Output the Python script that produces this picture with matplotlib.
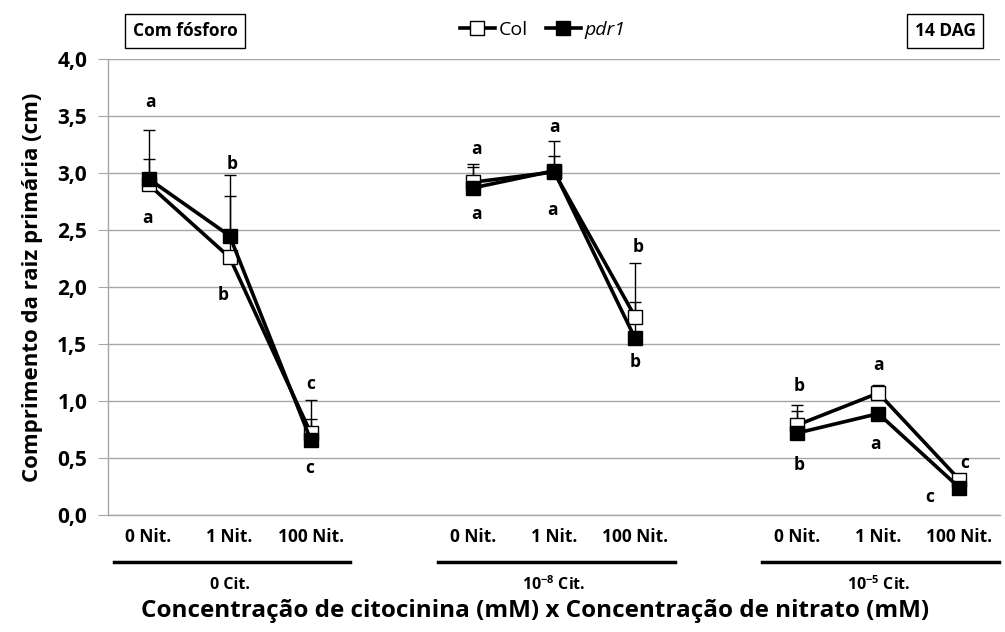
#!/usr/bin/env python3

import numpy as np
import matplotlib
matplotlib.use('Agg')
import matplotlib.pyplot as plt
import matplotlib.transforms as mtransforms
from matplotlib.lines import Line2D

# categories
nitrato = ['0 Nit.', '1 Nit.', '100 Nit.']
citocinina = ['0 Cit.', '10$^{\\mathbf{-8}}$ Cit.', '10$^{\\mathbf{-5}}$ Cit.']

# mean primary root length (cm), 3 groups x 3 nitrate levels
col = [2.90, 2.26, 0.72, 2.92, 3.01, 1.74, 0.79, 1.07, 0.31]
pdr1 = [2.95, 2.45, 0.66, 2.87, 3.02, 1.55, 0.72, 0.89, 0.24]
col_err = [0.22, 0.54, 0.29, 0.16, 0.27, 0.47, 0.18, 0.07, 0.03]
pdr1_err = [0.43, 0.53, 0.18, 0.18, 0.13, 0.32, 0.19, 0.03, 0.03]

# significance letters
letras_cima = ['a', 'b', 'c', 'a', 'a', 'b', 'b', 'a', 'c']
letras_baixo = ['a', 'b', 'c', 'a', 'a', 'b', 'b', 'a', 'c']

plt.rcParams['font.family'] = ['Open Sans', 'DejaVu Sans']
plt.rcParams['mathtext.fontset'] = 'custom'
plt.rcParams['mathtext.rm'] = 'Open Sans'
plt.rcParams['mathtext.bf'] = 'Open Sans:bold'

# x position of each point: groups separated by an empty slot
xs = np.array([g * 4 + i for g in range(3) for i in range(3)], dtype=float)

# where the letters sit (data units)
cima_x = xs + np.array([0.02, 0.03, 0.0, 0.04, 0.0, 0.04, 0.02, 0.0, 0.06])
cima_y = [3.62, 3.08, 1.15, 3.21, 3.40, 2.35, 1.13, 1.32, 0.46]
baixo_x = xs + np.array([-0.01, -0.08, -0.01, 0.05, -0.02, 0.0, 0.02, -0.03, -0.37])
baixo_y = [2.61, 1.93, 0.41, 2.64, 2.68, 1.34, 0.44, 0.62, 0.16]

fig = plt.figure(figsize=(10.05, 6.32), dpi=100)
ax = fig.add_axes([0.1075, 0.185, 0.8875, 0.7215])

grid_color = '#a6a6a6'

for g in range(3):
  sl = slice(g * 3, g * 3 + 3)
  ax.errorbar(xs[sl], col[sl], yerr=[np.zeros(3), col_err[sl]], fmt='none',
              ecolor='black', elinewidth=1, capsize=4, capthick=1, zorder=3)
  ax.errorbar(xs[sl], pdr1[sl], yerr=[np.zeros(3), pdr1_err[sl]], fmt='none',
              ecolor='black', elinewidth=1, capsize=4, capthick=1, zorder=3)
  ax.plot(xs[sl], col[sl], '-', color='black', lw=2.6, marker='s', ms=10,
          mfc='white', mec='black', mew=1, zorder=4)
  ax.plot(xs[sl], pdr1[sl], '-', color='black', lw=2.6, marker='s', ms=10,
          mfc='black', mec='black', mew=1, zorder=5)

for i in range(len(xs)):
  ax.text(cima_x[i], cima_y[i], letras_cima[i], ha='center', va='center',
          fontsize=12.5, fontweight='bold')
  ax.text(baixo_x[i], baixo_y[i], letras_baixo[i], ha='center', va='center',
          fontsize=12.5, fontweight='bold')

yt = np.arange(0, 4.01, 0.5)
ax.set_xlim(-0.5, 10.5)
ax.set_ylim(0, 4.0)
ax.set_yticks(yt)
ax.set_yticklabels([('%.1f' % v).replace('.', ',') for v in yt], fontsize=15,
                   fontweight='bold')
ax.yaxis.grid(True, color=grid_color, lw=1)
ax.set_axisbelow(True)
ax.tick_params(axis='y', length=7, color=grid_color, pad=8)
ax.set_xticks([])
for s in ['top', 'right']:
  ax.spines[s].set_visible(False)
for s in ['left', 'bottom']:
  ax.spines[s].set_color(grid_color)
  ax.spines[s].set_linewidth(1)

ax.set_ylabel('Comprimento da raiz primária (cm)', fontsize=16,
              fontweight='bold', labelpad=10)

# category labels below the axis
trans = mtransforms.blended_transform_factory(ax.transData, fig.transFigure)
for g in range(3):
  for i in range(3):
    ax.text(g * 4 + i, 1 - 537 / 632, nitrato[i], transform=trans,
            ha='center', va='center', fontsize=12.5, fontweight='bold')
  ax.add_line(Line2D([g * 4 - 0.43, g * 4 + 2.49], [1 - 562 / 632] * 2,
                     transform=trans, color='black', lw=2.5, clip_on=False))
  ax.text(g * 4 + 1, 1 - 585 / 632, citocinina[g], transform=trans,
          ha='center', va='center', fontsize=11.5, fontweight='bold')

fig.text(0.532, 1 - 611 / 632,
         'Concentração de citocinina (mM) x Concentração de nitrato (mM)',
         ha='center', va='center', fontsize=17.5, fontweight='bold')

# legend
handles = [
  Line2D([], [], color='black', lw=2.6, marker='s', ms=10, mfc='white',
         mec='black'),
  Line2D([], [], color='black', lw=2.6, marker='s', ms=10, mfc='black',
         mec='black'),
]
leg = fig.legend(handles, ['Col', 'pdr1'], loc='center',
                 bbox_to_anchor=(0.54, 1 - 30 / 632), ncol=2, frameon=False,
                 fontsize=14, handlelength=1.8, handletextpad=0.2,
                 columnspacing=0.9)
leg.get_texts()[1].set_fontstyle('italic')

box = dict(boxstyle='square,pad=0.45', fc='white', ec='black', lw=1)
fig.text(185 / 1005, 1 - 31 / 632, 'Com fósforo', ha='center', va='center',
         fontsize=12.5, fontweight='bold', bbox=box)
fig.text(945 / 1005, 1 - 31 / 632, '14 DAG', ha='center', va='center',
         fontsize=12.5, fontweight='bold', bbox=box)

plt.savefig('out.png', dpi=100)
